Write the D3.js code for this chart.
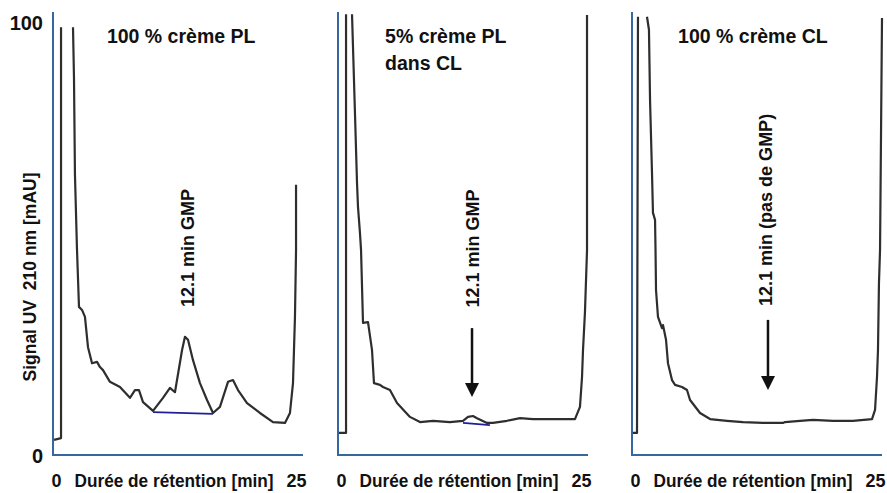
<!DOCTYPE html>
<html><head><meta charset="utf-8">
<script src="https://cdn.jsdelivr.net/npm/d3@7"></script>
<style>
html,body{margin:0;padding:0;background:#fff;}
text{font-family:"Liberation Sans",Arial,sans-serif;font-weight:bold;fill:#111;}
</style></head>
<body><svg id="c" width="887" height="493"></svg>
<script>
// ---- data (retention time in min, signal in mAU) ----
const yTicks = [0, 100];
const xTicks = [0, 25];
const xLabel = "Durée de rétention [min]";
const yLabel = "Signal UV\u00a0 210 nm [mAU]";
const titles = [["100 % crème PL"], ["5% crème PL", "dans CL"], ["100 % crème CL"]];
const annotations = ["12.1 min GMP", "12.1 min GMP", "12.1 min (pas de GMP)"];

const trace1 = [[0.10,3.5],[0.82,3.9],[0.82,98.8],[null,null],[2.04,98.8],[2.14,87.3],[2.24,64.7],[2.45,47.3],[2.65,34.2],[2.96,33.5],[3.26,31.9],[3.57,24.9],[3.98,21.2],[4.49,21.5],[4.79,20.3],[5.10,19.6],[5.81,16.9],[6.83,15.7],[7.85,13.2],[8.36,15.0],[8.77,15.0],[9.18,12.2],[10.20,10.2],[11.22,13.2],[11.93,15.5],[12.44,14.5],[13.16,24.2],[13.46,27.3],[13.77,26.6],[14.28,21.9],[14.99,16.6],[15.71,12.7],[16.32,9.7],[17.03,11.1],[17.85,16.9],[18.36,17.3],[18.87,15.0],[19.79,12.0],[21.11,9.7],[22.44,7.6],[23.66,7.4],[24.17,9.7],[24.48,16.6],[24.68,31.9],[24.79,47.3],[24.79,62.4]];
const trace2 = [[0.10,5.1],[0.82,5.1],[0.82,101.8],[null,null],[1.43,101.8],[1.73,79.0],[1.94,62.8],[2.04,57.3],[2.24,51.3],[2.35,47.3],[2.55,30.5],[3.06,30.7],[3.47,24.2],[3.67,16.6],[4.28,16.2],[4.59,15.7],[5.30,15.0],[6.02,12.0],[7.34,8.8],[8.36,7.6],[9.69,7.9],[11.42,7.6],[12.75,7.9],[13.26,8.8],[13.77,9.0],[14.18,8.5],[15.20,7.4],[15.81,7.4],[17.24,7.9],[18.56,8.5],[19.89,8.3],[21.93,8.3],[24.17,8.3],[24.68,11.1],[24.89,18.0],[24.99,24.2],[25.19,33.0],[25.40,47.3],[25.40,101.6]];
const trace3 = [[0.10,5.1],[0.51,5.1],[0.61,101.2],[null,null],[1.53,101.2],[1.73,98.2],[1.84,82.0],[2.04,65.1],[2.14,55.9],[2.35,54.3],[2.40,47.3],[2.45,38.1],[2.65,31.9],[3.06,29.3],[3.16,30.0],[3.47,26.6],[3.67,21.2],[4.08,17.3],[4.39,16.2],[5.10,15.7],[5.61,15.0],[5.92,12.7],[6.94,9.7],[7.96,8.3],[9.69,7.9],[11.32,7.6],[13.36,7.4],[15.40,7.4],[15.61,7.6],[17.14,7.9],[18.46,8.1],[20.50,7.9],[22.54,7.9],[24.48,8.3],[24.79,10.4],[24.99,18.0],[25.09,24.2],[25.19,39.7],[25.30,47.3],[25.50,100.9]];
const baselines = [[[10.20,9.9],[16.32,9.5]], [[12.75,7.4],[15.50,6.9]], null];
// annotation label centre [min, mAU]; arrow [min, from mAU, to mAU]
const annotPos = [[13.67,47.8],[13.77,47.7],[13.57,56.6]];
const arrows = [null, [13.67,29.3,13.4], [13.87,31.2,15.0]];
const titlePos = [[5.5],[4.8],[4.7]];
const traces = [trace1, trace2, trace3];

// ---- layout ----
const svg = d3.select("#c");
const panelLeft = [53, 338, 632];
const panelW = 250;
const xMax = 25.5, yMax = 102.3;
const y = d3.scaleLinear().domain([0, yMax]).range([455, 12]);
const axisColor = "#36679e";
const FONT = '"Liberation Sans",Arial,sans-serif';

// y tick labels
const yAxis = d3.axisLeft(y).tickValues(yTicks).tickSize(0).tickPadding(10);
const gy = svg.append("g").attr("transform", "translate(53,0)").call(yAxis);
gy.select(".domain").remove();
gy.selectAll("text").style("font-size", "20px").style("font-family", FONT).style("font-weight", "bold").attr("fill", "#111").attr("dy", "0.36em");

// y label
svg.append("text").attr("transform", "translate(36,277) rotate(-90)")
  .attr("text-anchor", "middle").style("font-size", "17.5px").text(yLabel);

panelLeft.forEach((left, i) => {
  const x = d3.scaleLinear().domain([0, xMax]).range([left, left + panelW]);
  const g = svg.append("g");

  // axes lines
  g.append("path").attr("fill", "none").attr("stroke", axisColor).attr("stroke-width", 2)
    .attr("d", `M${x(0)},${y(yMax)}V${y(0)}H${x(xMax)}`);

  // x tick labels
  const xa = d3.axisBottom(x).tickValues(xTicks).tickSize(0).tickPadding(0).tickFormat(d3.format("d"));
  const gx = g.append("g").attr("transform", `translate(0,${y(0)})`).call(xa);
  gx.select(".domain").remove();
  gx.selectAll("text").attr("y", 32).attr("dy", 0).style("font-size", "18px")
    .style("font-family", FONT).style("font-weight", "bold").attr("fill", "#111")
    .attr("transform", d => d === 0 ? "translate(3,0)" : "translate(-2,0)");

  // x label
  g.append("text").attr("x", x(0) + 121).attr("y", 487).attr("text-anchor", "middle")
    .attr("textLength", 199).attr("lengthAdjust", "spacingAndGlyphs")
    .style("font-size", "18px").text(xLabel);

  // title
  titles[i].forEach((t, k) => {
    g.append("text").attr("x", x(titlePos[i][0])).attr("y", 43 + k * 27)
      .style("font-size", "19.5px").text(t);
  });

  // trace
  const line = d3.line().defined(d => d[1] != null).x(d => x(d[0])).y(d => y(d[1]));
  g.append("path").datum(traces[i]).attr("fill", "none").attr("stroke", "#2e2e2e")
    .attr("stroke-width", 2.2).attr("stroke-linejoin", "round").attr("d", line);

  // integration baseline
  if (baselines[i]) {
    g.append("path").datum(baselines[i]).attr("fill", "none").attr("stroke", "#1f1f9a")
      .attr("stroke-width", 1.8).attr("d", line);
  }

  // annotation text
  const [ax, ay] = annotPos[i];
  g.append("text").attr("transform", `translate(${x(ax)},${y(ay)}) rotate(-90)`)
    .attr("text-anchor", "middle").attr("dy", "0.36em").style("font-size", "18px").text(annotations[i]);

  // arrow
  if (arrows[i]) {
    const [tx, y0, y1] = arrows[i];
    const px = x(tx), top = y(y0), tip = y(y1);
    g.append("line").attr("x1", px).attr("x2", px).attr("y1", top).attr("y2", tip - 10)
      .attr("stroke", "#111").attr("stroke-width", 2.5);
    g.append("path").attr("fill", "#111")
      .attr("d", `M${px - 7},${tip - 14}L${px + 7},${tip - 14}L${px},${tip}Z`);
  }
});
</script></body></html>
